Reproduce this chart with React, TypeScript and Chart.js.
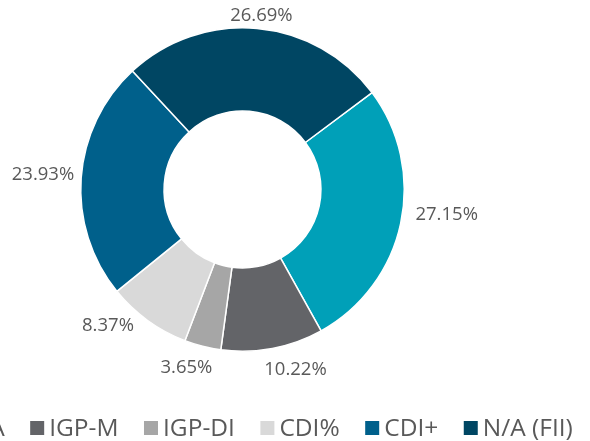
import React, { useEffect, useRef } from "react";
import { Chart, registerables } from "chart.js";

Chart.register(...registerables);

const categories = ["IPCA", "IGP-M", "IGP-DI", "CDI%", "CDI+", "N/A (FII)"];
const shares = [27.15, 10.22, 3.65, 8.37, 23.93, 26.69];
const sliceColors = ["#00A0B8", "#636468", "#A6A6A6", "#D9D9D9", "#00608B", "#004663"];

// label placement tweaks (angle in degrees, radial distance in px) – layout only
const labelNudges = [
  { da: -4, dr: 12.5 },
  { da: -4, dr: 15.5 },
  { da: 1.7, dr: 15 },
  { da: 6.1, dr: 12.5 },
  { da: 0.7, dr: 6.5 },
  { da: 0.3, dr: 4.5 },
];

const TEXT_COLOR = "#595959";
const FONT_FAMILY = '"Open Sans", "DejaVu Sans", sans-serif';

const labelPlugin = {
  id: "outerLabels",
  afterDatasetsDraw(chart: any) {
    const ctx = chart.ctx;
    const meta = chart.getDatasetMeta(0);
    ctx.save();
    ctx.font = `18.5px ${FONT_FAMILY}`;
    ctx.fillStyle = TEXT_COLOR;
    ctx.textAlign = "center";
    ctx.textBaseline = "middle";
    meta.data.forEach((arc: any, i: number) => {
      const props = arc.getProps(["x", "y", "startAngle", "endAngle", "outerRadius"], true);
      const nudge = labelNudges[i] || { da: 0, dr: 0 };
      const theta = (props.startAngle + props.endAngle) / 2 + (nudge.da * Math.PI) / 180;
      const r = props.outerRadius + 0.75 + nudge.dr;
      const text = shares[i].toFixed(2) + "%";
      const w = ctx.measureText(text).width;
      const h = 16;
      const cx = props.x + (r + w / 2) * Math.cos(theta);
      const cy = props.y + (r + h / 2) * Math.sin(theta);
      ctx.fillText(text, cx, cy);
    });
    ctx.restore();
  },
};

const LEGEND_CENTER_X = 253;
const LEGEND_BASELINE = 436;
const LEGEND_BOX = 14;
const LEGEND_BOX_GAP = 5;
const LEGEND_ITEM_GAP = 25.5;

const legendPlugin = {
  id: "bottomLegend",
  afterDraw(chart: any) {
    const ctx = chart.ctx;
    ctx.save();
    ctx.font = `24.5px ${FONT_FAMILY}`;
    ctx.textBaseline = "alphabetic";
    ctx.textAlign = "left";
    const widths = categories.map((c) => ctx.measureText(c).width);
    const total =
      widths.reduce((s, w) => s + LEGEND_BOX + LEGEND_BOX_GAP + w, 0) +
      LEGEND_ITEM_GAP * (categories.length - 1);
    let x = LEGEND_CENTER_X - total / 2;
    categories.forEach((c, i) => {
      ctx.fillStyle = sliceColors[i];
      ctx.fillRect(x, LEGEND_BASELINE - 15, LEGEND_BOX, LEGEND_BOX);
      x += LEGEND_BOX + LEGEND_BOX_GAP;
      ctx.fillStyle = TEXT_COLOR;
      ctx.fillText(c, x, LEGEND_BASELINE);
      x += widths[i] + LEGEND_ITEM_GAP;
    });
    ctx.restore();
  },
};

export default function App() {
  const canvasRef = useRef<HTMLCanvasElement | null>(null);

  useEffect(() => {
    document.body.style.margin = "0";
    const canvas = canvasRef.current;
    if (!canvas) return;
    const chart = new Chart(canvas, {
      type: "doughnut",
      data: {
        labels: categories,
        datasets: [
          {
            data: shares,
            backgroundColor: sliceColors,
            borderColor: "#FFFFFF",
            borderWidth: 1.5,
            hoverOffset: 0,
          },
        ],
      },
      options: {
        responsive: false,
        animation: false,
        events: [],
        rotation: 53.2,
        cutout: "48.5%",
        layout: {
          padding: { left: 80, top: 27, right: 185, bottom: 89 },
        },
        plugins: {
          legend: { display: false },
          tooltip: { enabled: false },
        },
      },
      plugins: [labelPlugin, legendPlugin],
    });
    return () => chart.destroy();
  }, []);

  return (
    <div style={{ width: 590, height: 441, overflow: "hidden", background: "#FFFFFF" }}>
      <canvas ref={canvasRef} width={590} height={441} style={{ display: "block" }} />
    </div>
  );
}
